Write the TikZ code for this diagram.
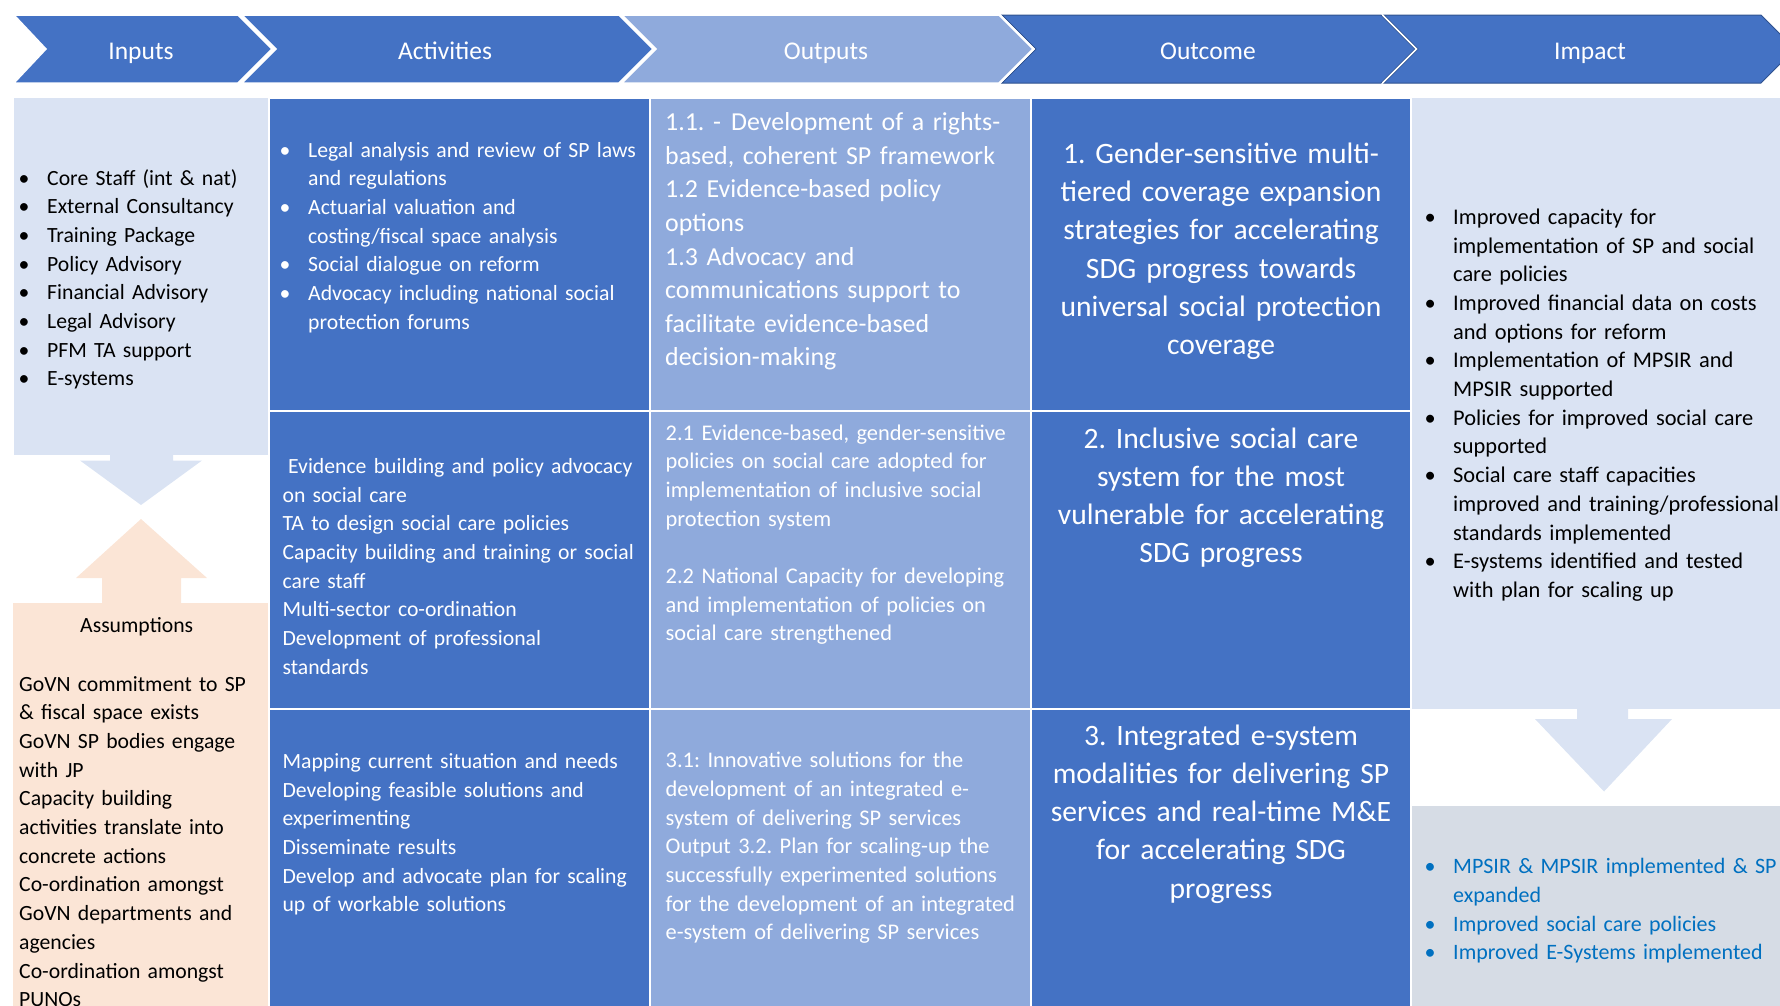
\documentclass[tikz,border=0pt]{standalone}
\usepackage{fontspec}
\setmainfont{Carlito}
\frenchspacing
\definecolor{dblue}{HTML}{4472C4}
\definecolor{mblue}{HTML}{8FAADC}
\definecolor{lblue}{HTML}{DAE3F3}
\definecolor{peach}{HTML}{FBE5D6}
\definecolor{gbox}{HTML}{D6DCE5}
\definecolor{tblue}{HTML}{0070C0}
\definecolor{edgeblue}{HTML}{2F528F}
\newcommand{\bul}{\makebox[28.5pt][l]{\textbullet}}
\newcommand{\ind}{\hspace*{28.5pt}}
\tikzset{
  cell/.style={draw=white, line width=2pt},
  chev/.style={draw=white, line width=1.5pt},
  chevlabel/.style={text=white, font=\fontsize{25.5}{30}\selectfont, anchor=base, inner sep=0pt},
  smalltxt/.style={font=\fontsize{22.4}{28.7}\selectfont, anchor=base west, inner sep=0pt, align=left, text width=380pt},
  narrowtxt/.style={smalltxt, font=\fontsize{21.7}{28.7}\selectfont},
  midtxt/.style={font=\fontsize{25.9}{33.6}\selectfont, anchor=base west, inner sep=0pt, align=left, text width=380pt},
  bigtxt/.style={font=\fontsize{29.6}{38.3}\selectfont, anchor=base, inner sep=0pt, align=center, text width=380pt},
}
\begin{document}
\begin{tikzpicture}[x=1pt, y=-1pt]
\useasboundingbox (0,0) rectangle (1780,1005);
\clip (0,0) rectangle (1780,1005);

% header chevrons
\filldraw[chev, fill=dblue] (14,15) -- (238,15) -- (272,49) -- (238,83) -- (14,83) -- (46,49) -- cycle;
\filldraw[chev, fill=dblue] (242,15) -- (619,15) -- (653,49) -- (619,83) -- (242,83) -- (276,49) -- cycle;
\filldraw[chev, fill=mblue] (622,15) -- (999,15) -- (1033,49) -- (999,83) -- (622,83) -- (656,49) -- cycle;
\filldraw[draw=edgeblue, line width=1pt, fill=dblue] (1002,15) -- (1381,15) -- (1415,49) -- (1381,83) -- (1002,83) -- (1036,49) -- cycle;
\filldraw[draw=edgeblue, line width=1pt, fill=dblue] (1384,15) -- (1761,15) -- (1795,49) -- (1761,83) -- (1384,83) -- (1418,49) -- cycle;
\draw[white, line width=1.5pt] (1000,15) -- (1034,49) -- (1000,83);
\draw[white, line width=1.5pt] (1382.5,15) -- (1416.5,49) -- (1382.5,83);

\node[chevlabel] (hin) at (141,59) {Inputs};
\node[chevlabel] (hact) at (445,59) {Activities};
\node[chevlabel] (hout) at (826,59) {Outputs};
\node[chevlabel] (hoc) at (1208,59) {Outcome};
\node[chevlabel] (him) at (1590,59) {Impact};

% inputs column
\fill[lblue] (14,98) rectangle (269,454.5);
\fill[lblue] (110,450) -- (173,450) -- (173,460.5) -- (202,460.5) -- (141,505) -- (80,460.5) -- (110,460.5) -- cycle;
\fill[peach] (141,519) -- (207,578) -- (181,578) -- (181,606) -- (102,606) -- (102,578) -- (76,578) -- cycle;
\fill[peach] (13,603) rectangle (269,1010);

% impact column
\fill[lblue] (1411,98) rectangle (1780,709);
\fill[lblue] (1577,705) -- (1628,705) -- (1628,719) -- (1672,719) -- (1604,791.5) -- (1535,719) -- (1577,719) -- cycle;
\fill[gbox] (1412,806) rectangle (1780,1010);

% grid cells
\filldraw[cell, fill=dblue] (269,98) rectangle (650,411);
\filldraw[cell, fill=dblue] (269,411) rectangle (650,709);
\filldraw[cell, fill=dblue] (269,709) rectangle (650,1012);
\filldraw[cell, fill=mblue] (650,98) rectangle (1031,411);
\filldraw[cell, fill=mblue] (650,411) rectangle (1031,709);
\filldraw[cell, fill=mblue] (650,709) rectangle (1031,1012);
\filldraw[cell, fill=dblue] (1031,98) rectangle (1411,411);
\filldraw[cell, fill=dblue] (1031,411) rectangle (1411,709);
\filldraw[cell, fill=dblue] (1031,709) rectangle (1411,1012);

% inputs text
\node[narrowtxt, text width=250pt] (inputs) at (18.5,185) {\bul Core Staff (int \& nat)\\
\bul External Consultancy\\
\bul Training Package\\
\bul Policy Advisory\\
\bul Financial Advisory\\
\bul Legal Advisory\\
\bul PFM TA support\\
\bul E-systems};

\node[narrowtxt, anchor=base, align=center, text width=240pt] (asstitle) at (136.7,632.8) {Assumptions};
\node[narrowtxt, text width=250pt] (assumptions) at (19,691) {GoVN commitment to SP\\
\& fiscal space exists\\
GoVN SP bodies engage\\
with JP\\
Capacity building\\
activities translate into\\
concrete actions\\
Co-ordination amongst\\
GoVN departments and\\
agencies\\
Co-ordination amongst\\
PUNOs};

% activities text
\node[narrowtxt, text=white] (act1) at (279.5,157) {\bul Legal analysis and review of SP laws\\
\ind and regulations\\
\bul Actuarial valuation and\\
\ind costing/fiscal space analysis\\
\bul Social dialogue on reform\\
\bul Advocacy including national social\\
\ind protection forums};

\node[narrowtxt, text=white] (act2) at (282.4,473.3) {\hspace*{5.5pt}Evidence building and policy advocacy\\
on social care\\
TA to design social care policies\\
Capacity building and training or social\\
care staff\\
Multi-sector co-ordination\\
Development of professional\\
standards};

\node[narrowtxt, text=white] (act3) at (282.4,768.3) {Mapping current situation and needs\\
Developing feasible solutions and\\
experimenting\\
Disseminate results\\
Develop and advocate plan for scaling\\
up of workable solutions};

% outputs text
\node[midtxt, text=white] (out1) at (665,130.7) {1.1. -\hspace{1.5pt} Development of a rights-\\
based, coherent SP framework\\
1.2 Evidence-based policy\\
options\\
1.3 Advocacy and\\
communications support to\\
facilitate evidence-based\\
decision-making};

\node[smalltxt, text=white] (out2) at (665.5,440) {2.1 Evidence-based, gender-sensitive\\
policies on social care adopted for\\
implementation of inclusive social\\
protection system\\[28.7pt]
2.2 National Capacity for developing\\
and implementation of policies on\\
social care strengthened};

\node[smalltxt, text=white] (out3) at (665.5,767.7) {3.1: Innovative solutions for the\\
development of an integrated e-\\
system of delivering SP services\\
Output 3.2. Plan for scaling-up the\\
successfully experimented solutions\\
for the development of an integrated\\
e-system of delivering SP services};

% outcome text
\node[bigtxt, text=white] (oc1) at (1221,163.3) {1. Gender-sensitive multi-\\
tiered coverage expansion\\
strategies for accelerating\\
SDG progress towards\\
universal social protection\\
coverage};

\node[bigtxt, text=white] (oc2) at (1221,448) {2. Inclusive social care\\
system for the most\\
vulnerable for accelerating\\
SDG progress};

\node[bigtxt, text=white] (oc3) at (1221,745) {3. Integrated e-system\\
modalities for delivering SP\\
services and real-time M\&E\\
for accelerating SDG\\
progress};

% impact text
\node[smalltxt, text width=360pt] (imp1) at (1424.5,224.3) {\bul Improved capacity for\\
\ind implementation of SP and social\\
\ind care policies\\
\bul Improved financial data on costs\\
\ind and options for reform\\
\bul Implementation of MPSIR and\\
\ind MPSIR supported\\
\bul Policies for improved social care\\
\ind supported\\
\bul Social care staff capacities\\
\ind improved and training/professional\\
\ind standards implemented\\
\bul E-systems identified and tested\\
\ind with plan for scaling up};

\node[smalltxt, font=\fontsize{22}{28.7}\selectfont, text=tblue, text width=360pt] (imp2) at (1424.5,873.8) {\bul MPSIR \& MPSIR implemented \& SP\\
\ind expanded\\
\bul Improved social care policies\\
\bul Improved E-Systems implemented};
\end{tikzpicture}
\end{document}
